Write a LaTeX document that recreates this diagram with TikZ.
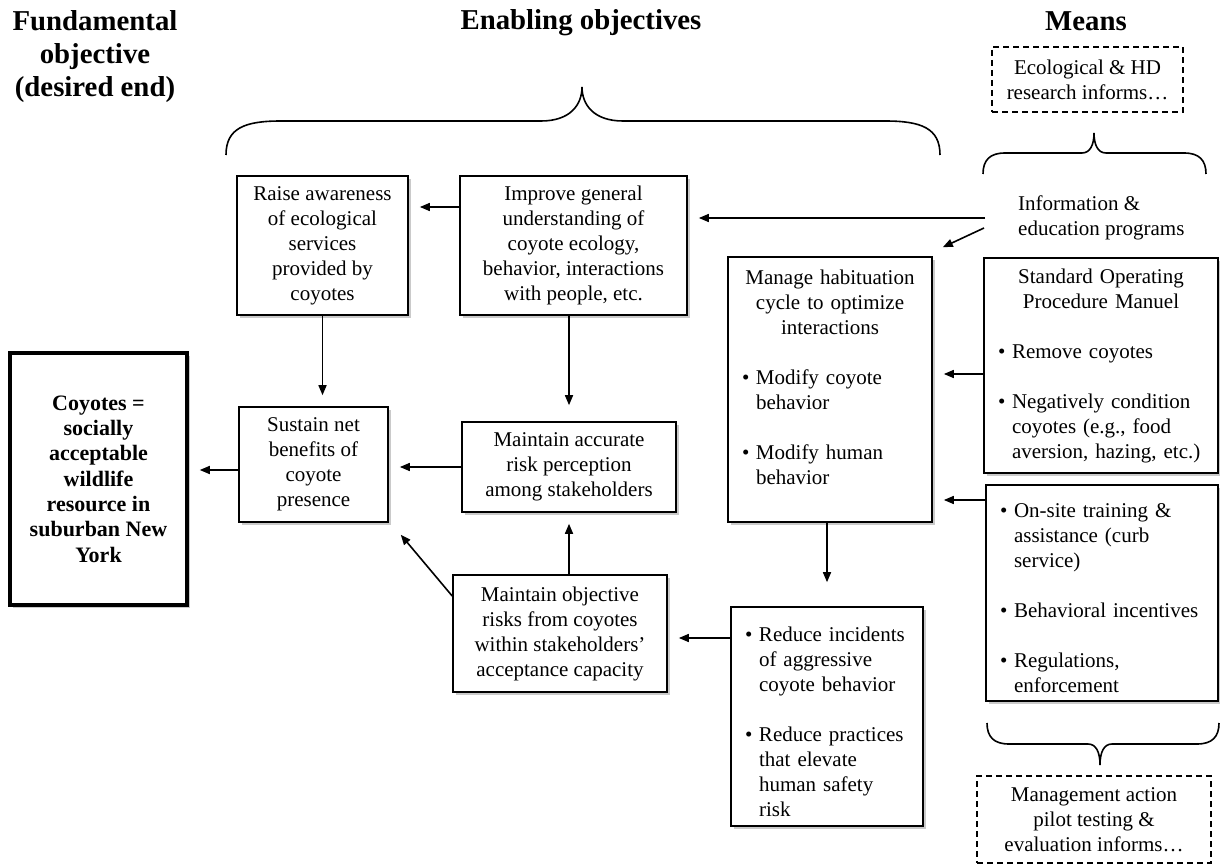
\documentclass[tikz,border=0pt]{standalone}
\usepackage{fontspec}
\setmainfont{Liberation Serif}
\usetikzlibrary{positioning,arrows.meta,shadows,calc}

% bullet line with hanging indent
\newcommand{\bitem}{\par\noindent\hangindent=14pt\hangafter=1\makebox[14pt][l]{\textbullet}}

\begin{document}
\begin{tikzpicture}[x=1pt, y=-1pt,
    txt/.style={font=\fontsize{21}{25}\selectfont},
    objbox/.style={txt, draw, line width=1.6pt, fill=white, align=center, inner sep=8pt,
        drop shadow={shadow xshift=3pt, shadow yshift=-3pt, fill=black!35, opacity=0.6}},
    bulletbox/.style={objbox, align=left, inner xsep=14pt},
    dashbox/.style={txt, draw, line width=1.3pt, dash pattern=on 6pt off 4pt, align=center},
    heading/.style={font=\bfseries\fontsize{28.8}{33}\selectfont, align=center},
    arr/.style={-{Triangle[length=10pt,width=8pt]}, line width=1.6pt, shorten >=11pt},
    brace/.style={line width=1.6pt}]

    \useasboundingbox (0,0) rectangle (1220,866);

    % Column headings
    \node[heading] (hfund) at (95,57) {Fundamental\\objective\\(desired end)};
    \node[heading] (henable) at (581,23) {Enabling objectives};
    \node[heading] (hmeans) at (1086,21) {Means};

    % Fundamental objective
    \node[objbox, line width=3.5pt, font=\bfseries\fontsize{22}{25.3}\selectfont,
        minimum width=177pt, minimum height=252pt] (coyote) at (98.5,479)
        {Coyotes =\\socially\\acceptable\\wildlife\\resource in\\suburban New\\York};

    % Enabling objectives
    \node[objbox, minimum width=171pt, minimum height=139pt] (raise) at (322.5,245.5)
        {Raise awareness\\of ecological\\services\\provided by\\coyotes};
    \node[objbox, minimum width=227pt, minimum height=139pt] (improve) at (573.5,245.5)
        {Improve general\\understanding of\\coyote ecology,\\behavior, interactions\\with people, etc.};
    \node[objbox, minimum width=149pt, minimum height=115pt] (sustain) at (313.5,464.5)
        {Sustain net\\benefits of\\coyote\\presence};
    \node[objbox, minimum width=214pt, minimum height=90pt] (accurate) at (569,467)
        {Maintain accurate\\risk perception\\among stakeholders};
    \node[objbox, minimum width=214pt, minimum height=117pt] (objective) at (560,633.5)
        {Maintain objective\\risks from coyotes\\within stakeholders’\\acceptance capacity};
    \node[bulletbox, text width=176pt, minimum height=265pt] (manage) at (830,389.5)
        {{\centering Manage habituation\\cycle to optimize\\interactions\par}\vspace{25pt}%
        \bitem Modify coyote\newline behavior\par\vspace{25pt}%
        \bitem Modify human\newline behavior\par\vspace{24pt}\hrule height 0pt};
    \node[bulletbox, text width=164pt, minimum height=219pt] (reduce) at (827,716.5)
        {\bitem Reduce incidents\newline of aggressive\newline coyote behavior\par\vspace{25pt}%
        \bitem Reduce practices\newline that elevate\newline human safety\newline risk\par};

    % Means
    \node[dashbox, minimum width=191pt, minimum height=65pt] (research) at (1087.5,79.5)
        {Ecological \& HD\\research informs…};
    \node[txt, align=left, anchor=west, inner sep=6pt] (info) at (1012,218)
        {Information \&\\education programs};
    \node[bulletbox, text width=206pt, minimum height=215pt] (sop) at (1101,365.5)
        {{\centering Standard Operating\\Procedure Manuel\par}\vspace{25pt}%
        \bitem Remove coyotes\par\vspace{25pt}%
        \bitem Negatively condition\newline coyotes (e.g., food\newline aversion, hazing, etc.)\par};
    \node[bulletbox, text width=204pt, minimum height=216pt] (tools) at (1102,593)
        {\bitem On-site training \&\newline assistance (curb\newline service)\par\vspace{25pt}%
        \bitem Behavioral incentives\par\vspace{25pt}%
        \bitem Regulations,\newline enforcement\par};
    \node[dashbox, minimum width=234pt, minimum height=87pt] (pilot) at (1094,819.5)
        {Management action\\pilot testing \&\\evaluation informs…};

    % Braces
    \draw[brace] (226,155) .. controls (226,128) and (245,121) .. (281,121) -- (541,121)
        .. controls (570,121) and (582,105) .. (582,87)
        .. controls (582,105) and (594,121) .. (623,121) -- (885,121)
        .. controls (921,121) and (940,128) .. (940,155);
    \draw[brace] (983,174) .. controls (983,160) and (990,153) .. (1005,153) -- (1082,153)
        .. controls (1090,153) and (1094,145) .. (1094,133)
        .. controls (1094,145) and (1098,153) .. (1106,153) -- (1184,153)
        .. controls (1199,153) and (1206,160) .. (1206,174);
    \draw[brace] (987,723) .. controls (987,737) and (994,744) .. (1009,744) -- (1088,744)
        .. controls (1096,744) and (1100,752) .. (1100,765)
        .. controls (1100,752) and (1104,744) .. (1112,744) -- (1197,744)
        .. controls (1212,744) and (1219,737) .. (1219,723);

    % Connectors
    \draw[arr] ([yshift=38.5pt]improve.west) -- ([yshift=38.5pt]raise.east);
    \draw[arr, shorten <=27pt] (info.west) -- (info.west -| improve.east);
    \draw[arr, shorten >=0pt] ([xshift=-28pt,yshift=-10pt]info.west) -- ([xshift=10pt,yshift=9pt]manage.north east);
    \draw[arr] ([yshift=-8.5pt]sop.west) -- ([yshift=-8.5pt]sop.west -| manage.east);
    \draw[arr] ([yshift=93pt]tools.west) -- ([yshift=93pt]tools.west -| manage.east);
    \draw[arr, shorten >=24pt] (manage.south -| reduce.north) -- (reduce.north);
    \draw[arr] ([yshift=78.5pt]reduce.west) -- ([yshift=78.5pt]reduce.west -| objective.east);
    \draw[arr] (objective.north -| accurate.south) -- (accurate.south);
    \draw[arr, shorten >=0pt] ([yshift=37.5pt]objective.west) -- ([xshift=12pt,yshift=-12pt]sustain.south east);
    \draw[arr] (accurate.west) -- (accurate.west -| sustain.east);
    \draw[arr, shorten >=16pt] (improve.south -| accurate.north) -- (accurate.north);
    \draw[arr] (raise.south) -- (raise.south |- sustain.north);
    \draw[arr] ([yshift=-5.5pt]sustain.west) -- ([yshift=-5.5pt]sustain.west -| coyote.east);
\end{tikzpicture}
\end{document}
